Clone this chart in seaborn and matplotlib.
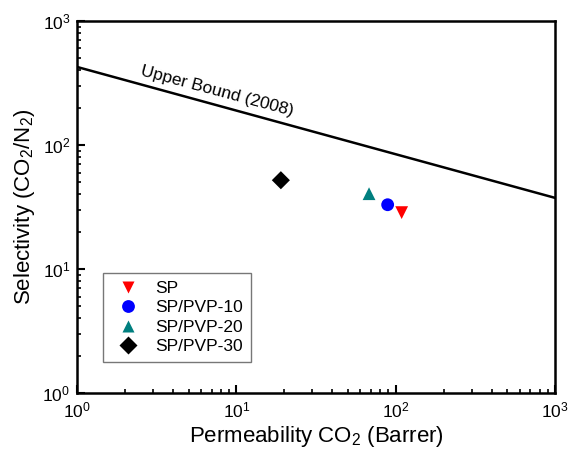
import matplotlib
matplotlib.use("Agg")
import matplotlib.pyplot as plt
import seaborn as sns
import pandas as pd
from matplotlib.ticker import LogLocator, NullFormatter

sns.set_style("ticks")
plt.rcParams['font.family'] = ['Liberation Sans', 'DejaVu Sans']
plt.rcParams['mathtext.fontset'] = 'custom'
plt.rcParams['mathtext.rm'] = 'Liberation Sans'
plt.rcParams['mathtext.it'] = 'Liberation Sans:italic'
for k in ['text.color', 'axes.labelcolor', 'xtick.color', 'ytick.color', 'axes.edgecolor']:
    plt.rcParams[k] = 'black'

# Data
labels = ["SP", "SP/PVP-10", "SP/PVP-20", "SP/PVP-30"]
perm = [109, 89, 68, 19]
select = [28.5, 33, 40.5, 52]
markers = ["v", "o", "^", "D"]
colors = ["#ff0000", "#0000ff", "#007f7f", "#000000"]
bound_x = [1, 1000]
bound_y = [425, 37.5]

df = pd.DataFrame({"label": labels, "perm": perm, "sel": select})

fig, ax = plt.subplots(figsize=(5.68, 4.54), dpi=100)
fig.subplots_adjust(left=0.136, right=0.977, top=0.954, bottom=0.134)

sns.lineplot(x=bound_x, y=bound_y, ax=ax, color="black", linewidth=1.8)
sns.scatterplot(data=df, x="perm", y="sel", hue="label", style="label",
                markers=dict(zip(labels, markers)), palette=dict(zip(labels, colors)),
                s=85, edgecolor="none", ax=ax)

ax.set_xscale("log")
ax.set_yscale("log")
ax.set_xlim(1, 1000)
ax.set_ylim(1, 1000)

for axis in [ax.xaxis, ax.yaxis]:
    axis.set_major_locator(LogLocator(base=10, numticks=10))
    axis.set_minor_locator(LogLocator(base=10, subs=range(2, 10), numticks=10))
    axis.set_minor_formatter(NullFormatter())
ax.tick_params(which="both", direction="in", top=False, right=False)
ax.tick_params(which="major", length=6, width=1.5, labelsize=12.5, pad=5)
ax.tick_params(which="minor", length=3, width=1.2)
for sp in ax.spines.values():
    sp.set_linewidth(1.8)
    sp.set_visible(True)

ax.set_xlabel("Permeability CO$_2$ (Barrer)", fontsize=16, labelpad=3)
ax.set_ylabel("Selectivity (CO$_2$/N$_2$)", fontsize=16, labelpad=4)

ax.text(2.45, 345, "Upper Bound (2008)", rotation=-15, fontsize=12.5,
        rotation_mode="anchor", ha="left", va="bottom")

leg = ax.legend(loc="lower left", bbox_to_anchor=(0.035, 0.06), fontsize=12.5,
                frameon=True, fancybox=False, edgecolor="#555555",
                handletextpad=0.6, borderpad=0.45, labelspacing=0.25)
leg.get_frame().set_linewidth(1.0)

fig.savefig("out.png", dpi=100)
